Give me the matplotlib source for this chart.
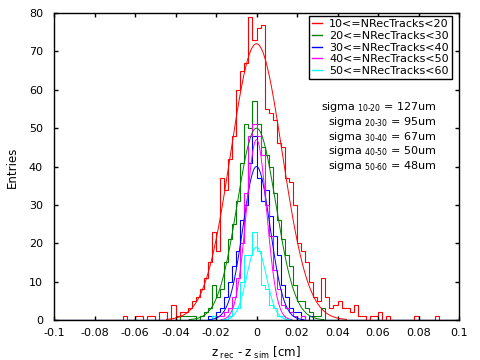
import numpy as np
import matplotlib
matplotlib.use('Agg')
import matplotlib.pyplot as plt
from matplotlib.lines import Line2D

plt.rcParams['axes.unicode_minus'] = False

# histogram binning: 100 bins of 0.002 cm between -0.1 and 0.1
x_edges = np.linspace(-0.1, 0.1, 101)
bin_width = 0.002

labels = ['10<=NRecTracks<20', '20<=NRecTracks<30', '30<=NRecTracks<40',
          '40<=NRecTracks<50', '50<=NRecTracks<60']
colors = ['#ff0000', '#008000', '#0000ff', '#ff00ff', '#00ffff']

# lower edge of the first listed bin, then bin contents
red_start = -0.066
red_counts = [1, 0, 0, 1, 1, 0, 1, 1, 0, 2, 2, 0, 4, 1, 2, 2, 3, 5, 6, 8,
              11, 15, 23, 18, 37, 34, 42, 48, 60, 65, 67, 79, 73, 76, 77, 55, 54, 52, 46, 45,
              37, 36, 30, 20, 18, 15, 10, 6, 5, 11, 6, 3, 4, 5, 3, 3, 2, 4, 1, 1,
              0, 1, 1, 2, 0, 1, 0, 0, 0, 0, 0, 0, 1, 0, 0, 0, 0, 1]
green_start = -0.038
green_counts = [1, 1, 1, 1, 0, 1, 2, 3, 9, 6, 8, 15, 21, 25, 31, 41, 51, 50, 57, 51,
                45, 43, 40, 33, 26, 21, 17, 14, 9, 5, 5, 3, 2, 1, 1, 3]
blue_start = -0.024
blue_counts = [1, 1, 2, 3, 6, 10, 14, 18, 26, 30, 41, 48, 37, 31, 34, 27, 22, 17, 9, 6,
               3, 2, 2, 1, 0, 1]
magenta_start = -0.020
magenta_counts = [1, 1, 2, 3, 6, 11, 20, 33, 48, 51, 48, 43, 30, 22, 13, 8, 4, 3, 2, 1,
                  0, 1]
cyan_start = -0.022
cyan_counts = [1, 0, 0, 0, 1, 3, 3, 10, 17, 17, 23, 18, 9, 8, 4, 3, 1, 1]

starts = [red_start, green_start, blue_start, magenta_start, cyan_start]
counts = [red_counts, green_counts, blue_counts, magenta_counts, cyan_counts]

# gaussian fits (amplitude, sigma in cm), centred at 0
fit_amp = [72, 50, 40, 47, 19]
fit_sigma = [0.0127, 0.0095, 0.0067, 0.0050, 0.0048]

sigma_text = [r'sigma$_{\ 10\text{-}20}$ = 127um', r'sigma$_{\ 20\text{-}30}$ = 95um',
              r'sigma$_{\ 30\text{-}40}$ = 67um', r'sigma$_{\ 40\text{-}50}$ = 50um',
              r'sigma$_{\ 50\text{-}60}$ = 48um']

xticks = np.linspace(-0.1, 0.1, 11)
xtick_labels = ['-0.1', '-0.08', '-0.06', '-0.04', '-0.02', '0', '0.02', '0.04', '0.06', '0.08', '0.1']
yticks = np.arange(0, 81, 10)

fig = plt.figure(figsize=(4.8, 3.6), dpi=100)
ax = fig.add_axes([54/480, 40/360, 405/480, 307/360])

for start, cnt, c, a, s in zip(starts, counts, colors, fit_amp, fit_sigma):
    h = np.zeros(100)
    i0 = int(round((start + 0.1) / bin_width))
    h[i0:i0 + len(cnt)] = cnt
    ax.stairs(h, x_edges, color=c, lw=0.8, baseline=0)
    xs = np.linspace(-3.5 * s, 3.5 * s, 150)
    ax.plot(xs, a * np.exp(-0.5 * (xs / s) ** 2), color=c, lw=0.7)

ax.set_xlim(-0.1, 0.1)
ax.set_ylim(0, 80)
ax.set_xticks(xticks)
ax.set_xticklabels(xtick_labels)
ax.set_yticks(yticks)
ax.tick_params(direction='in', top=True, right=True, length=3, width=1, labelsize=8)
ax.tick_params(axis='x', pad=6)
ax.tick_params(axis='y', pad=8)
for sp in ax.spines.values():
    sp.set_linewidth(1.0)

fig.text(256/480, 1 - 353/360, r'z$_{\ \mathrm{rec}}$ - z$_{\ \mathrm{sim}}$ [cm]',
         ha='center', va='center', fontsize=8.5)
fig.text(12/480, 1 - 167/360, 'Entries', rotation=90, ha='center', va='center', fontsize=8.5)

handles = [Line2D([], [], color=c, lw=1.0) for c in colors]
fig.legend(handles, labels, loc='upper left', bbox_to_anchor=(309/480, 1 - 16/360),
           borderaxespad=0, fontsize=8, frameon=True, fancybox=False, edgecolor='black',
           framealpha=1, handlelength=0.9, handletextpad=0.6, labelspacing=0.15,
           borderpad=0.3)
fig.legends[0].get_frame().set_linewidth(1.0)

ys = [107, 122, 137, 151, 166]
for t, y in zip(sigma_text, ys):
    fig.text(437/480, 1 - y/360, t, ha='right', va='center', fontsize=8)

fig.savefig('out.png', dpi=100)
